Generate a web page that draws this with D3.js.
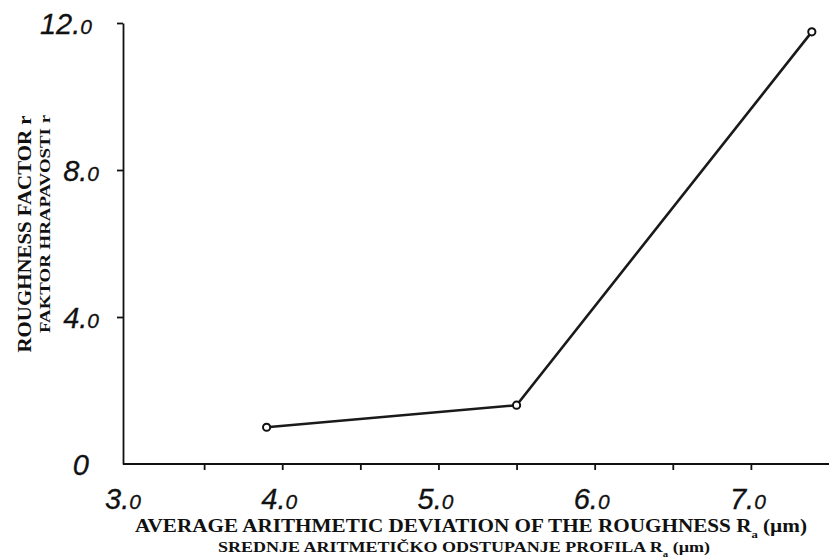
<!DOCTYPE html>
<html>
<head>
<meta charset="utf-8">
<script src="https://cdn.jsdelivr.net/npm/d3@7"></script>
<style>
  body { margin: 0; background: #fff; }
  svg { display: block; }
  .tick-num { font-family: "Liberation Sans", "DejaVu Sans", sans-serif; font-style: italic; fill: #111; stroke: #111; stroke-width: 0.3; }
  .title { font-family: "Liberation Serif", "DejaVu Serif", serif; font-weight: bold; fill: #111; }
</style>
</head>
<body>
<svg id="chart" width="829" height="558"></svg>
<script>
// data
const raValues = [3.9, 5.5, 7.39];        // Ra (µm)
const roughness = [1.0, 1.6, 11.76];      // roughness factor r
const xTicks = [3.5, 4.0, 4.5, 5.0, 5.5, 6.0, 6.5, 7.0];
const xLabels = [3.0, 4.0, 5.0, 6.0, 7.0];
const yTicks = [4, 8, 12];
const yLabels = [0, 4, 8, 12];

const svg = d3.select('#chart');

// scales
const x = d3.scaleLinear().domain([3.0, 7.5]).range([126, 829]);
const y = d3.scaleLinear().domain([0, 12]).range([464, 23]);

// y axis
svg.append('g')
  .attr('transform', `translate(${x(3.0) - 3},0)`)
  .call(d3.axisLeft(y).tickValues(yTicks).tickSize(6).tickSizeOuter(0).tickFormat(''))
  .call(g => g.selectAll('path, line').attr('stroke', '#111').attr('stroke-width', 1.8));

// x axis
svg.append('g')
  .attr('transform', `translate(0,${y(0)})`)
  .call(d3.axisBottom(x).tickValues(xTicks).tickSize(6).tickSizeOuter(0).tickFormat(''))
  .call(g => g.select('.domain').attr('d', `M${x(3.0) - 3},0H${x(7.5)}`))
  .call(g => g.selectAll('path, line').attr('stroke', '#111').attr('stroke-width', 1.8));

// number labels: big integer part, small trailing "0"
function numLabel(sel, v) {
  if (v === 0) {
    sel.append('tspan').text('0');
    return;
  }
  sel.append('tspan').text(Math.floor(v) + '.');
  sel.append('tspan').attr('font-size', 21).text('0');
}

svg.append('g').selectAll('text')
  .data(xLabels)
  .join('text')
  .attr('class', 'tick-num')
  .attr('x', d => x(d) - 3)
  .attr('y', 509)
  .attr('text-anchor', 'middle')
  .attr('font-size', 29)
  .each(function(d) { numLabel(d3.select(this), d); });

svg.append('g').selectAll('text')
  .data(yLabels)
  .join('text')
  .attr('class', 'tick-num')
  .attr('x', d => d === 0 ? 89 : (d === 12 ? 92 : 99))
  .attr('y', d => y(d) + 11)
  .attr('text-anchor', 'end')
  .attr('font-size', 29)
  .each(function(d) { numLabel(d3.select(this), d); });

// line + markers
const pts = raValues.map((v, i) => [v, roughness[i]]);
svg.append('path')
  .datum(pts)
  .attr('fill', 'none')
  .attr('stroke', '#1a1a1a')
  .attr('stroke-width', 2.6)
  .attr('d', d3.line().x(d => x(d[0])).y(d => y(d[1])));

svg.append('g').selectAll('circle')
  .data(pts)
  .join('circle')
  .attr('cx', d => x(d[0]))
  .attr('cy', d => y(d[1]))
  .attr('r', 3.6)
  .attr('fill', '#fff')
  .attr('stroke', '#111')
  .attr('stroke-width', 2);

// axis titles
function raTitle(sel, before, after) {
  sel.append('tspan').text(before);
  sel.append('tspan').attr('font-size', '60%').attr('baseline-shift', 'sub').text('a');
  sel.append('tspan').text(after);
}

svg.append('text')
  .attr('class', 'title')
  .attr('x', 471).attr('y', 532)
  .attr('text-anchor', 'middle')
  .attr('font-size', 19)
  .attr('textLength', 672)
  .attr('lengthAdjust', 'spacingAndGlyphs')
  .call(raTitle, 'AVERAGE ARITHMETIC DEVIATION OF THE ROUGHNESS R', ' (µm)');

svg.append('text')
  .attr('class', 'title')
  .attr('x', 464).attr('y', 552)
  .attr('text-anchor', 'middle')
  .attr('font-size', 14.5)
  .attr('textLength', 492)
  .attr('lengthAdjust', 'spacingAndGlyphs')
  .call(raTitle, 'SREDNJE ARITMETIČKO ODSTUPANJE PROFILA R', ' (µm)');

svg.append('text')
  .attr('class', 'title')
  .attr('transform', 'translate(31,234) rotate(-90)')
  .attr('text-anchor', 'middle')
  .attr('font-size', 19)
  .attr('textLength', 237)
  .attr('lengthAdjust', 'spacingAndGlyphs')
  .text('ROUGHNESS FACTOR r');

svg.append('text')
  .attr('class', 'title')
  .attr('transform', 'translate(50,224) rotate(-90)')
  .attr('text-anchor', 'middle')
  .attr('font-size', 15)
  .attr('textLength', 218)
  .attr('lengthAdjust', 'spacingAndGlyphs')
  .text('FAKTOR HRAPAVOSTI r');
</script>
</body>
</html>
